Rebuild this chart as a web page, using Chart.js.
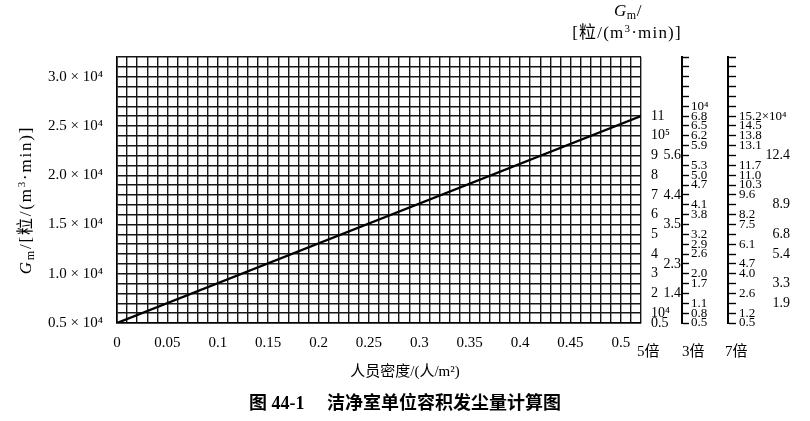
<!DOCTYPE html>
<html>
<head>
<meta charset="utf-8">
<script src="https://cdn.jsdelivr.net/npm/chart.js@4.4.1/dist/chart.umd.min.js"></script>
<style>
html,body{margin:0;padding:0;background:#fff;}
#wrap{width:810px;height:421px;position:relative;}
</style>
</head>
<body>
<div id="wrap"><canvas id="c" width="810" height="421"></canvas></div>
<script>
// ---------- data ----------
const densityPoints = [0, 0.52];          // 人员密度 (人/m²)
const gmPoints = [5000, 26000];           // Gm 粒/(m³·min)
const xTickLabels = [0, 0.05, 0.1, 0.15, 0.2, 0.25, 0.3, 0.35, 0.4, 0.45, 0.5];
const yTickLabels = [5000, 10000, 15000, 20000, 25000, 30000];

// 5倍 scale
const times5Values = [0.5, 1, 2, 3, 4, 5, 6, 7, 8, 9, 10, 11];
const times5Labels = ['0.5', '10⁴', '2', '3', '4', '5', '6', '7', '8', '9', '10⁵', '11'];

// 3倍 scale
const times3Marks = [0.5, 0.8, 1.1, 1.4, 1.7, 2.0, 2.3, 2.6, 2.9, 3.2, 3.5, 3.8, 4.1, 4.4, 4.7, 5.0, 5.3, 5.6, 5.9, 6.2, 6.5, 6.8, 7.1, 7.4, 7.7, 8.0, 8.3, 8.6];
const times3RightValues = [0.5, 0.8, 1.1, 1.7, 2.0, 2.6, 2.9, 3.2, 3.8, 4.1, 4.7, 5.0, 5.3, 5.9, 6.2, 6.5, 6.8, 7.1];
const times3RightLabels = ['0.5', '0.8', '1.1', '1.7', '2.0', '2.6', '2.9', '3.2', '3.8', '4.1', '4.7', '5.0', '5.3', '5.9', '6.2', '6.5', '6.8', '10⁴'];
const times3LeftValues = [1.4, 2.3, 3.5, 4.4, 5.6];
const times3LeftLabels = ['1.4', '2.3', '3.5', '4.4', '5.6'];

// 7倍 scale
const times7Marks = [0.5, 1.2, 1.9, 2.6, 3.3, 4.0, 4.7, 5.4, 6.1, 6.8, 7.5, 8.2, 8.9, 9.6, 10.3, 11.0, 11.7, 12.4, 13.1, 13.8, 14.5, 15.2, 15.9, 16.6, 17.3, 18.0, 18.7, 19.4];
const times7RightValues = [0.5, 1.2, 2.6, 4.0, 4.7, 6.1, 7.5, 8.2, 9.6, 10.3, 11.0, 11.7, 13.1, 13.8, 14.5, 15.2];
const times7RightLabels = ['0.5', '1.2', '2.6', '4.0', '4.7', '6.1', '7.5', '8.2', '9.6', '10.3', '11.0', '11.7', '13.1', '13.8', '14.5', '15.2×10⁴'];
const times7FarValues = [1.9, 3.3, 5.4, 6.8, 8.9, 12.4];
const times7FarLabels = ['1.9', '3.3', '5.4', '6.8', '8.9', '12.4'];

// ---------- helpers ----------
const SERIF = '"Liberation Serif","DejaVu Serif","Noto Sans CJK SC",serif';
const INK = '#000';
function pick(vals, labels, v) {
  const i = vals.findIndex(a => Math.abs(a - v) < 1e-6);
  return i < 0 ? '' : labels[i];
}
function fixedTicks(vals) { return s => { s.ticks = vals.map(v => ({ value: v })); }; }
function fixWidth(w) { return s => { s.width = w; }; }
const tickFont = { family: SERIF, size: 14, lineHeight: 1 };
const smallTickFont = { family: SERIF, size: 13, lineHeight: 1 };

function richText(ctx, runs, x, y, spacing) {
  // runs: {t, size, italic, dy}; x = centre
  const sp = spacing || 0;
  let total = 0;
  runs.forEach(r => {
    ctx.font = (r.italic ? 'italic ' : '') + r.size + 'px ' + SERIF;
    r.w = ctx.measureText(r.t).width + sp * [...r.t].length;
    total += r.w;
  });
  let cx = x - total / 2;
  ctx.textAlign = 'left';
  ctx.textBaseline = 'alphabetic';
  runs.forEach(r => {
    ctx.font = (r.italic ? 'italic ' : '') + r.size + 'px ' + SERIF;
    let px = cx;
    for (const ch of r.t) {
      ctx.fillText(ch, px, y + (r.dy || 0));
      px += ctx.measureText(ch).width + sp;
    }
    cx += r.w;
  });
}

const extraText = {
  id: 'extraText',
  afterDraw(chart) {
    const ctx = chart.ctx;
    const a = chart.chartArea;
    ctx.save();
    ctx.fillStyle = INK;
    // left axis title (rotated)
    ctx.save();
    ctx.translate(a.left - 86, (a.top + a.bottom) / 2 + 10);
    ctx.rotate(-Math.PI / 2);
    richText(ctx, [
      { t: 'G', size: 17, italic: true },
      { t: 'm', size: 12, dy: 3 },
      { t: '/[粒/(m', size: 17 },
      { t: '3', size: 11, dy: -6 },
      { t: '·min)]', size: 17 }
    ], 0, 0, 1.8);
    ctx.restore();
    // right header
    richText(ctx, [
      { t: 'G', size: 17, italic: true },
      { t: 'm', size: 12, dy: 3 },
      { t: '/', size: 17 }
    ], a.right - 13, a.top - 41, 0.5);
    richText(ctx, [
      { t: '[粒/(m', size: 17 },
      { t: '3', size: 11, dy: -6 },
      { t: '·min)]', size: 17 }
    ], a.right - 14, a.top - 19, 1.2);
    // 倍 labels under the side scales
    const sC = chart.scales.t3;
    const sD = chart.scales.t7;
    ctx.font = '15px ' + SERIF;
    ctx.textAlign = 'left';
    ctx.textBaseline = 'middle';
    ctx.fillText('5倍', a.right - 4, a.bottom + 29);
    ctx.fillText('3倍', sC.left, a.bottom + 29);
    ctx.fillText('7倍', sD.left - 3, a.bottom + 29);
    ctx.restore();
  }
};

const gridStyle = { color: '#161616', lineWidth: 1.4, drawTicks: false };
const noGrid = { display: false, drawTicks: false };

new Chart(document.getElementById('c'), {
  type: 'line',
  data: {
    datasets: [{
      data: densityPoints.map((x, i) => ({ x: x, y: gmPoints[i] })),
      borderColor: INK,
      borderWidth: 2.3,
      pointRadius: 0,
      fill: false,
      tension: 0
    }]
  },
  options: {
    responsive: false,
    animation: false,
    devicePixelRatio: 1,
    layout: { padding: { top: 57, left: 0, right: 0, bottom: 4 } },
    plugins: {
      legend: { display: false },
      tooltip: { enabled: false },
      subtitle: {
        display: true, position: 'bottom', text: '人员密度/(人/m²)', color: INK,
        font: { family: SERIF, size: 15, lineHeight: 1.2 },
        padding: { top: 10, bottom: 7.4 }
      },
      title: {
        display: true, position: 'bottom', text: '图 44-1\u3000 洁净室单位容积发尘量计算图', color: INK,
        font: { family: SERIF, size: 18, weight: 'bold', lineHeight: 1.2 },
        padding: { top: 5, bottom: 2 }
      }
    },
    scales: {
      x: {
        type: 'linear', min: 0, max: 0.52,
        ticks: {
          stepSize: 0.01, autoSkip: false, maxRotation: 0, padding: 11, color: INK,
          font: { family: SERIF, size: 15 },
          callback: v => pick(xTickLabels, xTickLabels.map(String), v)
        },
        grid: gridStyle,
        border: { color: INK, width: 1.6 },
        afterFit: s => { s.height = 30; }
      },
      y: {
        type: 'linear', position: 'left', min: 5000, max: 32000,
        ticks: {
          stepSize: 1000, autoSkip: false, padding: 14, color: INK,
          font: { family: SERIF, size: 15 },
          callback: v => yTickLabels.includes(v) ? (v / 10000).toFixed(1) + ' × 10⁴' : ''
        },
        grid: gridStyle,
        border: { color: INK, width: 1.6 },
        afterFit: fixWidth(117)
      },
      t5: {
        axis: 'y', type: 'linear', position: 'right', min: 0.5, max: 14.0,
        afterBuildTicks: fixedTicks(times5Values),
        ticks: { autoSkip: false, padding: 10, color: INK, font: tickFont,
          callback: v => pick(times5Values, times5Labels, v) },
        grid: noGrid, border: { display: false },
        afterFit: fixWidth(41)
      },
      t3left: {
        axis: 'y', type: 'linear', position: 'right', min: 0.5, max: 8.6,
        afterBuildTicks: fixedTicks(times3LeftValues),
        ticks: { autoSkip: false, mirror: true, padding: -1, color: INK, font: tickFont,
          callback: v => pick(times3LeftValues, times3LeftLabels, v) },
        grid: noGrid, border: { display: false },
        afterFit: fixWidth(0)
      },
      t3: {
        axis: 'y', type: 'linear', position: 'right', min: 0.5, max: 8.6,
        afterBuildTicks: fixedTicks(times3Marks),
        ticks: { autoSkip: false, padding: 2, color: INK, font: smallTickFont,
          callback: v => pick(times3RightValues, times3RightLabels, v) },
        grid: { display: true, drawOnChartArea: false, drawTicks: true, tickLength: 7, tickColor: INK, tickWidth: 1.4 },
        border: { display: true, color: INK, width: 2 },
        afterFit: fixWidth(46)
      },
      t7: {
        axis: 'y', type: 'linear', position: 'right', min: 0.5, max: 19.4,
        afterBuildTicks: fixedTicks(times7Marks),
        ticks: { autoSkip: false, padding: 3, color: INK, font: smallTickFont,
          callback: v => pick(times7RightValues, times7RightLabels, v) },
        grid: { display: true, drawOnChartArea: false, drawTicks: true, tickLength: 8, tickColor: INK, tickWidth: 1.4 },
        border: { display: true, color: INK, width: 2 },
        afterFit: fixWidth(82)
      },
      t7far: {
        axis: 'y', type: 'linear', position: 'right', min: 0.5, max: 19.4,
        afterBuildTicks: fixedTicks(times7FarValues),
        ticks: { autoSkip: false, mirror: true, padding: -20, color: INK, font: tickFont,
          callback: v => pick(times7FarValues, times7FarLabels, v) },
        grid: noGrid, border: { display: false },
        afterFit: fixWidth(0)
      }
    }
  },
  plugins: [extraText]
});
</script>
</body>
</html>
